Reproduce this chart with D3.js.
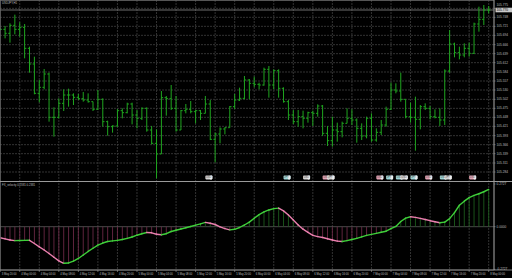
<!DOCTYPE html>
<html>
<head>
<meta charset="utf-8">
<script src="https://cdn.jsdelivr.net/npm/d3@7"></script>
<style>
    body { margin: 0; background: #000; overflow: hidden; }
    svg { display: block; }
</style>
</head>
<body>
<div id="chart"></div>
<script>
const symbolTitle = 'USDJPY,H1';
const indicatorTitle = 'FX_velocity 0.2381 0.2381';

const opens = [105.712,105.712,105.700,105.724,105.712,105.718,105.655,105.608,105.520,105.538,
    105.578,105.448,105.448,105.490,105.515,105.515,105.508,105.504,105.500,105.495,
    105.472,105.502,105.435,105.420,105.422,105.468,105.462,105.488,105.455,105.445,
    105.475,105.410,105.370,105.338,105.507,105.504,105.475,105.410,105.468,105.472,
    105.465,105.468,105.460,105.488,105.382,105.398,105.413,105.417,105.480,105.500,
    105.505,105.560,105.550,105.547,105.545,105.592,105.545,105.588,105.535,105.495,
    105.455,105.435,105.450,105.445,105.462,105.460,105.482,105.400,105.378,105.410,
    105.405,105.430,105.445,105.440,105.415,105.392,105.445,105.380,105.403,105.425,
    105.472,105.530,105.527,105.502,105.450,105.448,105.442,105.480,105.475,105.450,
    105.448,105.440,105.587,105.668,105.642,105.635,105.655,105.640,105.728,105.742,105.770];
const highs = [105.715,105.722,105.730,105.756,105.733,105.728,105.660,105.630,105.560,105.593,
    105.582,105.478,105.505,105.532,105.534,105.520,105.518,105.524,105.520,105.495,
    105.530,105.505,105.438,105.424,105.473,105.475,105.492,105.492,105.470,105.478,
    105.478,105.422,105.412,105.527,105.512,105.545,105.512,105.470,105.488,105.497,
    105.470,105.470,105.512,105.500,105.402,105.418,105.418,105.482,105.518,105.537,
    105.572,105.563,105.570,105.552,105.597,105.602,105.592,105.592,105.538,105.500,
    105.470,105.470,105.468,105.465,105.468,105.487,105.485,105.422,105.450,105.432,
    105.435,105.475,105.472,105.445,105.430,105.450,105.460,105.415,105.440,105.480,
    105.552,105.550,105.582,105.502,105.492,105.510,105.485,105.490,105.482,105.472,
    105.475,105.592,105.710,105.672,105.660,105.670,105.672,105.732,105.780,105.785,105.782];
const lows = [105.709,105.685,105.672,105.697,105.690,105.625,105.582,105.517,105.493,105.532,
    105.435,105.390,105.445,105.467,105.480,105.485,105.500,105.495,105.492,105.467,
    105.470,105.420,105.393,105.402,105.420,105.445,105.460,105.427,105.415,105.440,
    105.405,105.367,105.265,105.338,105.453,105.470,105.405,105.410,105.460,105.460,
    105.430,105.440,105.460,105.380,105.313,105.370,105.397,105.417,105.473,105.497,
    105.502,105.502,105.538,105.532,105.543,105.507,105.532,105.507,105.492,105.440,
    105.428,105.420,105.415,105.432,105.422,105.450,105.392,105.362,105.360,105.375,
    105.388,105.430,105.425,105.372,105.380,105.385,105.375,105.375,105.395,105.420,
    105.470,105.520,105.495,105.445,105.432,105.348,105.412,105.470,105.442,105.445,
    105.422,105.425,105.582,105.628,105.622,105.628,105.630,105.638,105.705,105.725,105.760];
const closes = [105.712,105.700,105.724,105.712,105.718,105.655,105.608,105.520,105.538,105.578,
    105.448,105.448,105.490,105.515,105.515,105.508,105.504,105.500,105.495,105.472,
    105.502,105.435,105.420,105.422,105.468,105.462,105.488,105.455,105.445,105.475,
    105.410,105.370,105.338,105.507,105.504,105.475,105.410,105.468,105.472,105.465,
    105.468,105.460,105.488,105.382,105.398,105.413,105.417,105.480,105.500,105.505,
    105.560,105.550,105.547,105.545,105.592,105.545,105.588,105.535,105.495,105.455,
    105.435,105.450,105.445,105.462,105.460,105.482,105.400,105.378,105.410,105.405,
    105.430,105.445,105.440,105.415,105.392,105.445,105.380,105.403,105.425,105.472,
    105.530,105.527,105.502,105.450,105.448,105.442,105.480,105.475,105.450,105.448,
    105.440,105.587,105.668,105.642,105.635,105.655,105.640,105.728,105.742,105.770,105.770];

const velocity = [-0.0704,-0.0774,-0.0851,-0.0890,-0.0883,-0.0877,-0.0870,-0.1075,-0.1286,-0.1491,
    -0.1715,-0.1952,-0.2182,-0.2336,-0.2317,-0.2195,-0.2029,-0.1811,-0.1581,-0.1376,
    -0.1178,-0.1043,-0.0947,-0.0909,-0.0877,-0.0819,-0.0749,-0.0659,-0.0544,-0.0448,
    -0.0371,-0.0390,-0.0480,-0.0518,-0.0448,-0.0307,-0.0224,-0.0147,-0.0070,0.0013,
    0.0096,0.0179,0.0275,0.0218,0.0141,-0.0006,-0.0122,-0.0205,-0.0166,-0.0051,
    0.0109,0.0294,0.0538,0.0774,0.0941,0.1069,0.1158,0.1190,0.1011,0.0749,
    0.0435,0.0115,-0.0160,-0.0358,-0.0557,-0.0634,-0.0691,-0.0768,-0.0851,-0.0922,
    -0.0947,-0.0890,-0.0819,-0.0742,-0.0653,-0.0557,-0.0493,-0.0429,-0.0358,-0.0288,
    -0.0128,0.0019,0.0333,0.0544,0.0634,0.0595,0.0531,0.0461,0.0384,0.0320,
    0.0256,0.0294,0.0518,0.0902,0.1370,0.1632,0.1856,0.1997,0.2106,0.2234,0.2381];

const priceTicks = [105.775,105.748,105.721,105.694,105.666,105.639,105.612,105.584,105.557,105.530,
    105.502,105.475,105.448,105.421,105.393,105.366,105.339,105.311,105.284];
const velocityTicks = [0.2727, 0, -0.2727];

const timeLabels = ['3 May 20:00','4 May 00:00','4 May 04:00','4 May 08:00','4 May 12:00','4 May 16:00',
    '4 May 20:00','5 May 00:00','5 May 04:00','5 May 08:00','5 May 12:00','5 May 16:00',
    '5 May 20:00','6 May 00:00','6 May 04:00','6 May 08:00','6 May 12:00','6 May 16:00',
    '6 May 20:00','7 May 00:00','7 May 04:00','7 May 08:00','7 May 12:00','7 May 16:00',
    '7 May 20:00','8 May 00:00'];
const labelEvery = 4;

const eventBars = [42, 58, 62, 66, 67, 77, 79, 81, 82, 84, 87, 90, 91, 96];
const eventKinds = ['low','mid','low','high','low','high','mid','mid','low','mid','high','mid','low','high'];
const eventCurrency = ['USD','JPY','USD','USD','JPY','USD','JPY','USD','USD','JPY','USD','USD','JPY','USD'];

const width = 512, height = 278;
const plotRight = 494;
const mainTop = 0, mainBottom = 181;
const indTop = 183, indBottom = 270;

const svg = d3.select('#chart').append('svg')
    .attr('width', width)
    .attr('height', height)
    .style('background', '#000');

const x = d3.scaleLinear().domain([0, opens.length - 1]).range([0.2, 488.7]);
const y = d3.scaleLinear().domain([105.257, 105.800]).range([mainBottom, mainTop]);
const yv = d3.scaleLinear().domain([-0.278, 0.278]).range([indBottom + 0.2, indTop + 0.2]);

const gridColor = '#383838';
const frameColor = '#9a9a9a';
const textColor = '#bdbdbd';

// grid
const vIdx = d3.range(labelEvery, opens.length, labelEvery);
svg.append('g').selectAll('line')
    .data(vIdx)
    .enter().append('line')
    .attr('x1', d => x(d)).attr('x2', d => x(d))
    .attr('y1', mainTop).attr('y2', indBottom)
    .attr('stroke', gridColor)
    .attr('stroke-width', 0.9)
    .attr('stroke-dasharray', '2,1');

svg.append('g').selectAll('line')
    .data(priceTicks)
    .enter().append('line')
    .attr('x1', 0).attr('x2', plotRight)
    .attr('y1', d => y(d)).attr('y2', d => y(d))
    .attr('stroke', gridColor)
    .attr('stroke-width', 0.9)
    .attr('stroke-dasharray', '2,1');

// bid line
const last = closes[closes.length - 1];
svg.append('line')
    .attr('x1', 0).attr('x2', plotRight)
    .attr('y1', y(last)).attr('y2', y(last))
    .attr('stroke', '#8a8a8a')
    .attr('stroke-width', 0.8);

// OHLC bars
const barColor = '#1fa51f';
const bars = svg.append('g').selectAll('g')
    .data(opens.map((o, i) => ({i, o, h: highs[i], l: lows[i], c: closes[i]})))
    .enter().append('g')
    .attr('stroke', barColor)
    .attr('stroke-width', 1);
bars.append('line')
    .attr('x1', d => x(d.i)).attr('x2', d => x(d.i))
    .attr('y1', d => y(d.h)).attr('y2', d => y(d.l));
bars.append('line')
    .attr('x1', d => x(d.i) - 1.7).attr('x2', d => x(d.i))
    .attr('y1', d => y(d.o)).attr('y2', d => y(d.o));
bars.append('line')
    .attr('x1', d => x(d.i)).attr('x2', d => x(d.i) + 1.7)
    .attr('y1', d => y(d.c)).attr('y2', d => y(d.c));

// event markers
const eventFill = {low: '#d4d4d4', mid: '#9ed6d8', high: '#e3a3b5'};
const ev = svg.append('g').selectAll('g')
    .data(eventBars.map((b, k) => ({b, kind: eventKinds[k], cur: eventCurrency[k]})))
    .enter().append('g')
    .attr('transform', d => `translate(${x(d.b)},175.6)`);
ev.append('rect')
    .attr('width', 7).attr('height', 3.8).attr('rx', 0.8)
    .attr('fill', d => eventFill[d.kind]);
ev.append('rect')
    .attr('x', 4.3).attr('width', 2.7).attr('height', 3.8).attr('rx', 0.8)
    .attr('fill', '#eeeeee');
ev.append('text')
    .attr('x', 0.6).attr('y', 2.9)
    .attr('font-family', 'Liberation Sans')
    .attr('font-size', 2.6)
    .attr('fill', '#555')
    .text(d => d.cur);

// indicator: zero level, histogram, line
svg.append('line')
    .attr('x1', 0).attr('x2', plotRight)
    .attr('y1', yv(0)).attr('y2', yv(0))
    .attr('stroke', '#5c5c5c')
    .attr('stroke-width', 0.8);

svg.append('g').selectAll('line')
    .data(velocity)
    .enter().append('line')
    .attr('x1', (d, i) => x(i)).attr('x2', (d, i) => x(i))
    .attr('y1', yv(0)).attr('y2', d => yv(d))
    .attr('stroke', d => d >= 0 ? '#1c5a1c' : '#6a2845')
    .attr('stroke-width', 0.9);

const segs = d3.range(velocity.length - 1).map(i => ({i, up: velocity[i + 1] >= velocity[i]}));
const seg = d3.line().x(d => x(d[0])).y(d => yv(d[1]));
svg.append('g').selectAll('path')
    .data(segs)
    .enter().append('path')
    .attr('d', d => seg([[d.i, velocity[d.i]], [d.i + 1, velocity[d.i + 1]]]))
    .attr('fill', 'none')
    .attr('stroke', d => d.up ? '#3fcf3a' : '#ea7fae')
    .attr('stroke-width', 1.4)
    .attr('stroke-linecap', 'round');

// frames
svg.append('rect')
    .attr('x', 0.5).attr('y', 0.5)
    .attr('width', plotRight - 0.5).attr('height', indBottom - 0.5)
    .attr('fill', 'none')
    .attr('stroke', '#6a6a6a')
    .attr('stroke-width', 0.8);
svg.append('line')
    .attr('x1', 0).attr('x2', width)
    .attr('y1', mainBottom + 0.5).attr('y2', mainBottom + 0.5)
    .attr('stroke', frameColor)
    .attr('stroke-width', 1);
svg.append('line')
    .attr('x1', 0).attr('x2', width)
    .attr('y1', indBottom).attr('y2', indBottom)
    .attr('stroke', frameColor)
    .attr('stroke-width', 0.8);
svg.append('line')
    .attr('x1', plotRight).attr('x2', plotRight)
    .attr('y1', 0).attr('y2', indBottom)
    .attr('stroke', frameColor)
    .attr('stroke-width', 0.8);

// price axis; a label too close to the bid box is lifted above it
const bidY = y(last);
const pAxis = svg.append('g').selectAll('g')
    .data(priceTicks)
    .enter().append('g')
    .attr('transform', d => `translate(${plotRight},${y(d)})`);
pAxis.append('line')
    .attr('x1', 0).attr('x2', 1.5)
    .attr('stroke', frameColor).attr('stroke-width', 0.6);
pAxis.append('text')
    .attr('x', 2.5)
    .attr('y', d => Math.abs(y(d) - bidY) < 5 ? bidY - 5 - y(d) : 0)
    .attr('dy', '0.35em')
    .attr('font-family', 'Liberation Sans')
    .attr('font-size', 3.2)
    .attr('fill', textColor)
    .text(d => d.toFixed(3));

const bid = svg.append('g').attr('transform', `translate(${plotRight},${bidY})`);
bid.append('rect')
    .attr('x', 1.5).attr('y', -2.3).attr('width', 17).attr('height', 4.6)
    .attr('fill', '#c9c9c9');
bid.append('text')
    .attr('x', 2.5).attr('dy', '0.35em')
    .attr('font-family', 'Liberation Sans')
    .attr('font-size', 3.2)
    .attr('fill', '#000')
    .text(last.toFixed(3));

const vAxis = svg.append('g').selectAll('g')
    .data(velocityTicks)
    .enter().append('g')
    .attr('transform', d => `translate(${plotRight},${yv(d)})`);
vAxis.append('line')
    .attr('x1', 0).attr('x2', 1.5)
    .attr('stroke', frameColor).attr('stroke-width', 0.6);
vAxis.append('text')
    .attr('x', 2.5).attr('dy', '0.35em')
    .attr('font-family', 'Liberation Sans')
    .attr('font-size', 3.2)
    .attr('fill', textColor)
    .text(d => d.toFixed(4));

// time axis
const tAxis = svg.append('g').selectAll('g')
    .data(timeLabels)
    .enter().append('g')
    .attr('transform', (d, k) => `translate(${x(k * labelEvery)},${indBottom})`);
tAxis.append('line')
    .attr('y1', 0).attr('y2', 2)
    .attr('stroke', frameColor).attr('stroke-width', 0.6);
tAxis.append('text')
    .attr('x', 1.5).attr('y', 5.3)
    .attr('font-family', 'Liberation Sans')
    .attr('font-size', 2.7)
    .attr('fill', textColor)
    .text(d => d);

// titles
svg.append('text')
    .attr('x', 2).attr('y', 3.6)
    .attr('font-family', 'Liberation Sans')
    .attr('font-size', 2.8)
    .attr('fill', textColor)
    .text(symbolTitle);
svg.append('text')
    .attr('x', 2).attr('y', 185.6)
    .attr('font-family', 'Liberation Sans')
    .attr('font-size', 2.8)
    .attr('fill', textColor)
    .text(indicatorTitle);
</script>
</body>
</html>
